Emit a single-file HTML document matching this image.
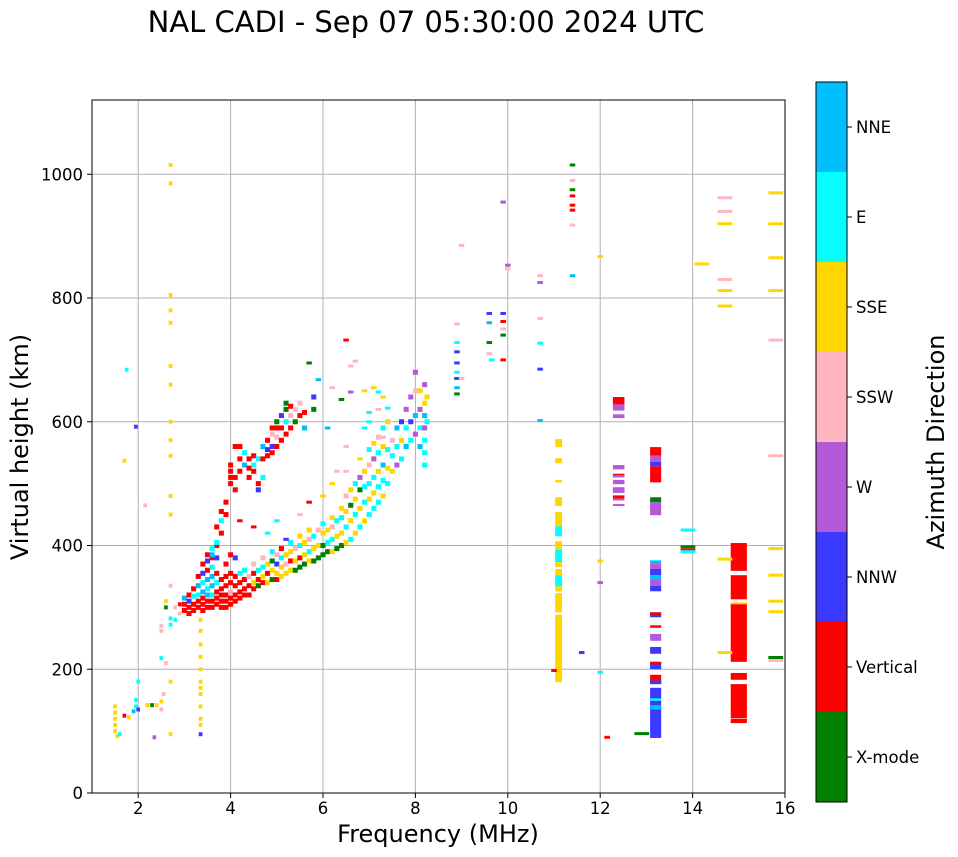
<!DOCTYPE html>
<html><head><meta charset="utf-8">
<style>
body{margin:0;background:#fff;font-family:"DejaVu Sans","Liberation Sans",sans-serif;}
#wrap{position:relative;width:958px;height:857px;overflow:hidden;}
svg text{font-family:"DejaVu Sans","Liberation Sans",sans-serif;}
</style></head>
<body>
<div id="wrap">
<svg id="chart" width="958" height="857" xmlns="http://www.w3.org/2000/svg">
<text x="426" y="32" text-anchor="middle" font-size="29" fill="#000">NAL CADI - Sep 07 05:30:00 2024 UTC</text>
<g id="grid"></g>
<g id="marks"></g>
<rect x="92" y="100" width="693" height="693" fill="none" stroke="#000" stroke-width="1"/>
<g id="axes"></g>
<text x="438" y="842" text-anchor="middle" font-size="24">Frequency (MHz)</text>
<text transform="translate(28,447) rotate(-90)" text-anchor="middle" font-size="24">Virtual height (km)</text>
<g id="cbar"></g>
<text transform="translate(944,442) rotate(-90)" text-anchor="middle" font-size="24">Azimuth Direction</text>
</svg>
</div>
<script>
const categories=["X-mode","Vertical","NNW","W","SSW","SSE","E","NNE"];
const catColors=["#008000","#ff0000","#3a3aff","#b45ad6","#ffb6c1","#ffd700","#00ffff","#00bfff"];
const xTicks=[2,4,6,8,10,12,14,16];
const yTicks=[0,200,400,600,800,1000];
// column segments: [low km, high km, category]
const col111=[[559,572,5],[533,541,5],[502,506,5],[464,478,5],[431,454,5],[415,431,6],[393,407,5],[373,393,6],[365,373,5],[352,362,5],[334,352,6],[326,334,5],[292,323,5],[179,288,5]];
const col124=[[628,640,1],[618,628,3],[606,612,3],[523,530,3],[512,516,1],[510,514,3],[499,506,3],[489,494,1],[485,494,3],[476,481,1],[473,476,3],[464,467,3]];
const col132=[[545,559,1],[535,545,3],[528,535,2],[518,528,1],[502,518,1],[470,478,0],[449,470,3],[370,376,7],[362,370,3],[352,362,2],[345,352,7],[335,345,3],[326,335,2],[284,292,2],[288,292,1],[267,271,1],[246,257,3],[225,236,2],[200,212,2],[208,212,1],[176,191,1],[176,182,2],[152,170,2],[149,153,6],[89,149,2],[135,142,7]];
const col150=[[359,404,1],[313,352,1],[305,308,5],[212,305,1],[183,194,1],[121,176,1],[113,120,1]];
const colFreqs=[11.1,12.4,13.2,15.0];
const colWidths=[0.15,0.25,0.24,0.35];
// scattered echoes: [freq MHz, height km, category]
const lowPts=[[1.5,140,5],[1.5,130,5],[1.5,120,5],[1.5,110,5],[1.5,100,5],[1.55,92,5],[1.6,95,6],[1.7,125,1],[1.8,122,5],[1.9,132,7],[1.95,140,6],[1.95,150,6],[2.0,135,2],[2.2,142,5],[2.3,142,0],[2.4,142,5],[2.5,135,4],[2.5,148,5],[2.55,160,4],[2.5,262,4],[2.5,270,4],[2.6,300,0],[2.7,282,6],[2.7,272,6],[2.8,300,4],[2.9,290,4],[2.9,305,1],[2.35,90,3],[2.5,218,6],[2.6,210,4],[1.75,684,6],[1.7,537,5],[2.15,465,4],[1.95,592,2],[2.0,180,6],[2.7,335,4],[2.6,310,5],[2.8,280,6]];
const colPts=[[2.7,1015,5],[2.7,985,5],[2.7,805,5],[2.7,780,5],[2.7,760,5],[2.7,690,5],[2.7,660,5],[2.7,600,5],[2.7,570,5],[2.7,545,5],[2.7,480,5],[2.7,450,5],[2.7,95,5],[2.7,180,5],[3.35,95,2],[3.35,110,5],[3.35,120,5],[3.35,140,5],[3.35,160,5],[3.35,170,5],[3.35,180,5],[3.35,200,5],[3.35,220,5],[3.35,240,5],[3.35,262,5],[3.35,280,5]];
const lowerTrace=[[3.0,295,1],[3.0,305,1],[3.0,315,7],[3.1,290,1],[3.1,300,1],[3.1,310,2],[3.1,320,1],[3.2,295,1],[3.2,305,1],[3.2,318,6],[3.2,330,1],[3.3,300,1],[3.3,310,1],[3.3,320,6],[3.3,335,7],[3.3,350,1],[3.4,295,1],[3.4,305,1],[3.4,315,1],[3.4,325,7],[3.4,340,6],[3.4,355,2],[3.4,370,1],[3.5,300,1],[3.5,310,1],[3.5,320,7],[3.5,330,6],[3.5,345,7],[3.5,360,1],[3.5,375,2],[3.5,385,1],[3.6,300,1],[3.6,310,1],[3.6,320,6],[3.6,335,7],[3.6,350,7],[3.6,365,6],[3.6,380,1],[3.6,395,4],[3.7,305,1],[3.7,315,1],[3.7,325,1],[3.7,340,6],[3.7,355,1],[3.7,380,2],[3.7,400,1],[3.8,300,1],[3.8,310,1],[3.8,320,1],[3.8,330,1],[3.8,345,1],[3.9,300,1],[3.9,310,1],[3.9,320,1],[3.9,335,1],[3.9,350,1],[3.9,370,1],[4.0,305,1],[4.0,315,1],[4.0,325,4],[4.0,340,1],[4.0,355,1],[4.0,385,1],[4.1,310,1],[4.1,320,1],[4.1,335,1],[4.1,350,1],[4.1,380,2],[4.2,315,1],[4.2,325,1],[4.2,340,1],[4.2,355,6],[4.3,320,1],[4.3,330,1],[4.3,345,1],[4.3,360,6],[4.4,320,1],[4.4,335,1],[4.4,350,4],[4.5,330,1],[4.5,340,5],[4.5,355,1],[4.5,370,4],[4.6,335,0],[4.6,345,1],[4.6,360,6],[4.7,340,1],[4.7,350,5],[4.7,365,6],[4.7,380,4],[4.8,340,5],[4.8,355,1],[4.8,370,5],[4.9,345,0],[4.9,360,5],[4.9,375,0],[4.9,390,6],[5.0,345,1],[5.0,355,5],[5.0,370,2],[5.0,385,4],[5.1,350,5],[5.1,365,5],[5.1,380,6],[5.1,395,1],[5.2,355,5],[5.2,370,4],[5.2,385,5],[5.3,360,5],[5.3,375,1],[5.3,390,5],[5.3,405,6],[5.4,360,0],[5.4,375,5],[5.4,395,4],[5.5,365,0],[5.5,380,1],[5.5,400,6],[5.5,415,5],[5.6,370,0],[5.6,385,5],[5.6,405,5],[5.7,375,5],[5.7,390,6],[5.7,410,4],[5.7,425,5],[5.8,375,0],[5.8,395,5],[5.8,415,6],[5.9,380,0],[5.9,400,5],[5.9,425,4],[6.0,385,0],[6.0,400,0],[6.0,420,5],[6.0,435,6],[6.1,390,0],[6.1,405,6],[6.1,425,5],[6.2,390,5],[6.2,410,6],[6.2,430,4],[6.2,445,5],[6.3,395,0],[6.3,415,5],[6.3,440,6],[6.4,400,0],[6.4,420,5],[6.4,445,6],[6.4,460,5],[6.5,405,5],[6.5,430,6],[6.5,455,5],[6.5,480,4],[6.6,410,6],[6.6,440,5],[6.6,465,0],[6.6,490,5],[6.7,420,5],[6.7,450,6],[6.7,475,5],[6.7,500,6],[6.8,430,6],[6.8,460,5],[6.8,490,0],[6.8,510,3],[6.9,440,5],[6.9,470,6],[6.9,495,6],[6.9,520,5],[7.0,450,6],[7.0,475,5],[7.0,500,6],[7.0,530,4],[7.0,555,6],[7.1,460,6],[7.1,485,5],[7.1,510,6],[7.1,540,3],[7.1,565,5],[7.2,470,6],[7.2,495,6],[7.2,520,5],[7.2,550,6],[7.2,575,4],[7.3,480,5],[7.3,505,6],[7.3,530,7],[7.3,560,5],[7.3,590,6],[7.4,500,6],[7.4,525,5],[7.4,555,6],[7.4,600,5],[7.5,520,5],[7.5,545,6],[7.5,570,4],[7.6,530,3],[7.6,560,6],[7.6,590,7],[7.7,540,6],[7.7,570,5],[7.7,600,2],[7.8,560,7],[7.8,590,6],[7.8,620,3],[7.9,570,6],[7.9,600,2],[7.9,640,3],[8.0,580,3],[8.0,610,7],[8.0,650,4],[8.0,680,3],[8.1,560,7],[8.1,590,6],[8.1,620,3],[8.1,650,5],[8.2,530,6],[8.2,550,6],[8.2,570,6],[8.2,590,3],[8.2,610,7],[8.2,630,5],[8.2,660,3],[8.25,600,6],[8.25,640,5]];
const upperTrace=[[3.6,385,7],[3.6,395,6],[3.7,430,1],[3.7,405,6],[3.8,420,1],[3.8,440,6],[3.8,455,1],[3.9,450,1],[3.9,470,1],[4.0,500,1],[4.0,510,1],[4.0,520,1],[4.0,530,1],[4.1,490,1],[4.1,510,1],[4.1,560,1],[4.2,520,1],[4.2,540,1],[4.2,560,1],[4.3,530,7],[4.3,550,6],[4.4,510,1],[4.4,525,1],[4.4,540,1],[4.5,520,1],[4.5,530,6],[4.5,545,1],[4.6,540,6],[4.6,500,1],[4.6,490,2],[4.7,560,7],[4.7,540,1],[4.7,510,6],[4.8,545,1],[4.8,555,2],[4.8,570,1],[4.9,550,1],[4.9,560,2],[4.9,580,4],[4.9,590,1],[5.0,560,1],[5.0,575,4],[5.0,590,1],[5.0,600,0],[5.1,570,1],[5.1,590,1],[5.1,610,2],[5.2,580,1],[5.2,600,6],[5.2,620,0],[5.2,630,0],[5.3,590,1],[5.3,610,4],[5.3,625,1],[5.4,600,0],[5.4,620,4],[5.5,610,1],[5.5,630,4],[5.6,590,7],[5.6,615,1],[5.8,620,0],[5.8,640,2]];
const scatterPts=[[4.2,440,1],[4.5,430,1],[4.8,420,6],[5.0,440,6],[5.2,410,2],[5.5,450,4],[5.7,470,1],[6.0,480,5],[6.2,500,5],[6.5,520,4],[6.8,540,5],[7.0,600,6],[7.2,620,4],[5.7,695,0],[5.9,668,7],[6.5,732,1],[6.4,636,0],[6.2,655,4],[6.6,690,4],[6.7,698,4],[6.9,650,5],[7.1,655,5],[7.3,640,5],[7.0,615,6],[7.4,622,6],[7.2,648,6],[6.6,648,3],[6.1,590,7],[6.9,590,6],[7.3,575,4],[6.5,560,4],[6.3,520,4],
[8.9,758,4],[8.9,728,6],[8.9,713,2],[8.9,695,2],[8.9,680,6],[8.9,670,2],[8.9,655,7],[8.9,645,0],[9.0,885,4],[9.0,670,4],[9.6,775,2],[9.6,760,7],[9.6,728,0],[9.6,710,4],[9.65,700,6],[9.9,775,2],[9.9,762,1],[9.9,750,4],[9.9,740,0],[9.9,700,1],[9.9,955,3],[10.0,853,3],[10.0,847,4],
[10.7,836,4],[10.7,825,3],[10.7,767,4],[10.7,727,6],[10.7,685,2],[10.7,602,7],[11.4,1015,0],[11.4,990,4],[11.4,975,0],[11.4,965,1],[11.4,950,1],[11.4,942,1],[11.4,918,4],[11.4,836,7],[11.6,227,2],[12.0,867,5],[12.0,375,5],[12.0,340,3],[12.0,195,6],[12.15,90,1],[11.0,198,1]];
const dashPts=[[14.7,962,4],[14.7,940,4],[14.7,920,5],[14.7,830,4],[14.7,812,5],[14.7,787,5],[14.7,378,5],[14.7,227,5],[14.2,855,5],[13.9,425,6],[13.9,398,0],[13.9,393,1],[13.9,390,6],[12.9,96,0],[15.8,970,5],[15.8,920,5],[15.8,865,5],[15.8,812,5],[15.8,732,4],[15.8,545,4],[15.8,395,5],[15.8,352,5],[15.8,310,5],[15.8,293,5],[15.8,219,0],[15.8,214,4]];

const X0=92,X1=785,Y0=793,Y1=100,XMIN=1,XMAX=16,YMIN=0,YMAX=1120;
const xs=f=>X0+(f-XMIN)/(XMAX-XMIN)*(X1-X0);
const ys=h=>Y0-(h-YMIN)/(YMAX-YMIN)*(Y0-Y1);
const NS="http://www.w3.org/2000/svg";
function mk(tag,parent,attrs){const e=document.createElementNS(NS,tag);for(const k in attrs)e.setAttribute(k,attrs[k]);parent.appendChild(e);return e;}
const grid=document.getElementById('grid'),axes=document.getElementById('axes'),marks=document.getElementById('marks'),cbar=document.getElementById('cbar');
xTicks.forEach(t=>{
 const x=xs(t);
 if(t<XMAX){const g=mk('line',grid,{x1:x,x2:x,y1:Y1,y2:Y0,stroke:'#b0b0b0','stroke-width':1});
 
 }
 const tk=mk('line',axes,{x1:x,x2:x,y1:Y0,y2:Y0+5,stroke:'#000'});
 
 
 const l=mk('text',axes,{x:x,y:Y0+21,'text-anchor':'middle','font-size':16.5});
 l.textContent=t;
 
 
});
yTicks.forEach(t=>{
 const y=ys(t);
 if(t>YMIN){const g=mk('line',grid,{x1:X0,x2:X1,y1:y,y2:y,stroke:'#b0b0b0','stroke-width':1});
 
 }
 const tk=mk('line',axes,{x1:X0-5,x2:X0,y1:y,y2:y,stroke:'#000'});
 
 
 const l=mk('text',axes,{x:X0-9,y:y+6,'text-anchor':'end','font-size':16.5});
 l.textContent=t;
 
 
});
[col111,col124,col132,col150].forEach((segs,ci)=>{
 const f=colFreqs[ci],w=colWidths[ci];
 segs.forEach(s=>{
  const r=mk('rect',marks,{x:xs(f-w/2),y:ys(s[1]),width:xs(f+w/2)-xs(f-w/2),height:Math.max(2,ys(s[0])-ys(s[1])),fill:catColors[s[2]]});
  
  
 });
});
function drawPts(arr,w,hgt,name){
 arr.forEach(p=>{
  const r=mk('rect',marks,{x:xs(p[0]-w/2),y:ys(p[1])-hgt/2,width:xs(p[0]+w/2)-xs(p[0]-w/2),height:hgt,fill:catColors[p[2]]});
  
  
 });
}
drawPts(lowPts,0.08,4,'echo-point');
drawPts(colPts,0.08,4,'echo-point');
drawPts(lowerTrace,0.11,5,'lower-trace-echo');
drawPts(upperTrace,0.11,5,'upper-trace-echo');
drawPts(scatterPts,0.12,3,'echo-point');
drawPts(dashPts,0.32,3,'echo-dash');
// colorbar
const CX=816,CW=31,CT=82,CB=802,seg=(CB-CT)/categories.length;
categories.forEach((c,i)=>{
 const y=CB-(i+1)*seg;
 const r=mk('rect',cbar,{x:CX,y:y,width:CW,height:seg,fill:catColors[i]});
 
 
 const tk=mk('line',cbar,{x1:CX+CW,x2:CX+CW+5,y1:y+seg/2,y2:y+seg/2,stroke:'#000'});
 
 
 const l=mk('text',cbar,{x:CX+CW+9,y:y+seg/2+6,'font-size':16.5});
 l.textContent=c;
 
 
});
const fr=mk('rect',cbar,{x:CX,y:CT,width:CW,height:CB-CT,fill:'none',stroke:'#000'});


</script>
</body></html>
